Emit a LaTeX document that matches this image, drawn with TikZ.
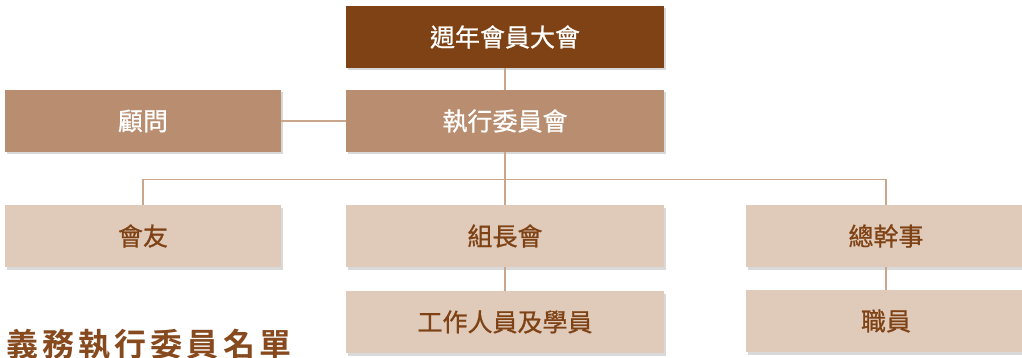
\documentclass[tikz,border=0pt]{standalone}
\usepackage{fontspec}
\setmainfont{Noto Sans CJK TC}[FakeBold=0.8]
\newfontfamily\cjkbold[BoldFont={* Bold}]{Noto Sans CJK TC}
\usetikzlibrary{shadows}
\definecolor{darkbrown}{HTML}{7E4215}
\definecolor{midbrown}{HTML}{B98E70}
\definecolor{lightbrown}{HTML}{E0CBBA}
\definecolor{linebrown}{HTML}{C9A68C}
\definecolor{titlebrown}{HTML}{874A1E}
\tikzset{
  orgbox/.style={rectangle, minimum height=62pt, inner sep=0pt,
    font=\fontsize{25}{28}\selectfont,
    drop shadow={shadow xshift=1.5pt, shadow yshift=-2.5pt, opacity=0.25, fill=black!60}},
  darkbox/.style={orgbox, fill=darkbrown, text=white},
  midbox/.style={orgbox, fill=midbrown, text=white},
  lightbox/.style={orgbox, fill=lightbrown, text=darkbrown},
  conn/.style={draw=linebrown, line width=1.3pt}
}
\begin{document}
\begin{tikzpicture}[x=1pt,y=-1pt]
\useasboundingbox (0,0) rectangle (1022,358);
% nodes
\node[darkbox, minimum width=318pt] (agm) at (505,37) {週年會員大會};
\node[midbox, minimum width=318pt] (exec) at (505,121) {執行委員會};
\node[midbox, minimum width=276pt] (adv) at (143,121) {顧問};
\node[lightbox, minimum width=276pt] (mem) at (143,236) {會友};
\node[lightbox, minimum width=318pt] (grp) at (505,236) {組長會};
\node[lightbox, minimum width=280pt] (sec) at (886,236) {總幹事};
\node[lightbox, minimum width=318pt] (staff) at (505,322) {工作人員及學員};
\node[lightbox, minimum width=280pt] (emp) at (886,321) {職員};
% connectors
\draw[conn] (agm.south) -- (exec.north);
\draw[conn] (adv.east) -- (exec.west);
\draw[conn] (exec.south) -- (grp.north);
\draw[conn] (mem.north) -- ++(0,-25) -| (sec.north);
\draw[conn] (grp.south) -- (staff.north);
\draw[conn] (sec.south) -- (emp.north);
% title
\node[anchor=base west, inner sep=0pt, text=titlebrown,
  font=\cjkbold\bfseries\fontsize{32}{36}\selectfont\addfontfeatures{LetterSpace=13}]
  (title) at (6,356) {義務執行委員名單};
\end{tikzpicture}
\end{document}
